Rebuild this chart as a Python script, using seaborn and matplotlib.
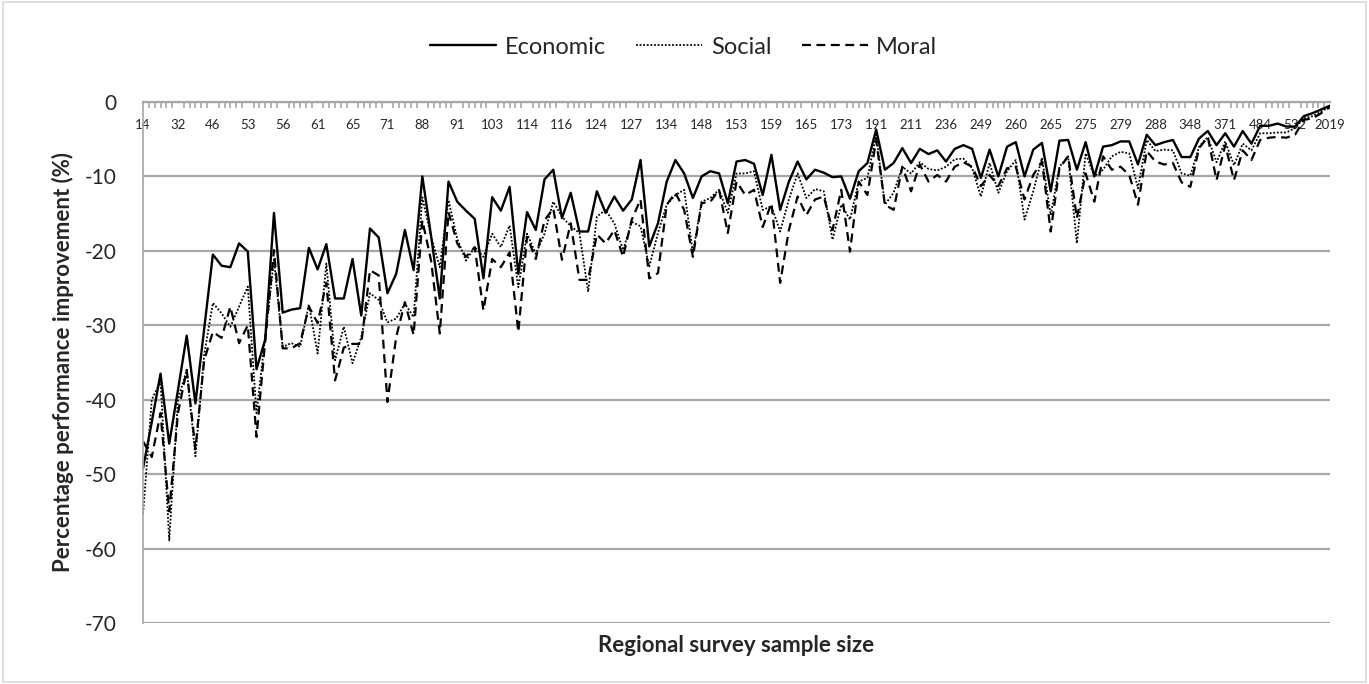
import numpy as np
import pandas as pd
import matplotlib
matplotlib.use("Agg")
import matplotlib.pyplot as plt
import matplotlib.patches as patches
import seaborn as sns

# sample-size labels shown on the axis (every 4th region)
sample_size_labels = ["14", "32", "46", "53", "56", "61", "65", "71", "88", "91", "103", "114",
                      "116", "124", "127", "134", "148", "153", "159", "165", "173", "191", "211",
                      "236", "249", "260", "265", "275", "279", "288", "348", "371", "484", "532", "2019"]
label_step = 4

economic = [-49.2, -43.0, -36.5, -45.9, -38.7, -31.4, -40.5, -30.5, -20.5, -22.0, -22.2, -19.0,
            -20.1, -35.9, -31.9, -14.9, -28.3, -27.9, -27.7, -19.6, -22.5, -19.1, -26.4, -26.4,
            -21.1, -28.7, -17.0, -18.2, -25.7, -23.1, -17.2, -22.6, -10.0, -18.0, -26.4, -10.7,
            -13.4, -14.6, -15.7, -23.7, -12.8, -14.6, -11.4, -23.1, -14.8, -17.2, -10.4, -9.1,
            -15.6, -12.2, -17.4, -17.4, -12.0, -14.9, -12.7, -14.6, -13.1, -7.8, -19.4, -16.3,
            -10.7, -7.8, -9.6, -12.9, -10.0, -9.3, -9.6, -13.6, -8.0, -7.8, -8.3, -12.5,
            -7.1, -14.5, -10.7, -8.0, -10.4, -9.1, -9.5, -10.1, -10.0, -13.0, -9.3, -8.2,
            -3.7, -9.1, -8.2, -6.2, -8.2, -6.3, -7.0, -6.5, -8.0, -6.3, -5.8, -6.3,
            -10.2, -6.4, -10.0, -6.0, -5.4, -10.0, -6.4, -5.5, -12.0, -5.2, -5.1, -9.1,
            -5.4, -10.0, -6.0, -5.8, -5.3, -5.3, -8.4, -4.4, -5.8, -5.4, -5.1, -7.4,
            -7.4, -4.9, -3.9, -5.8, -4.2, -6.0, -3.9, -5.6, -3.2, -3.2, -2.9, -3.3,
            -3.3, -1.9, -1.5, -1.0, -0.5]

social = [-55.3, -40.0, -37.5, -58.9, -40.0, -36.0, -47.6, -34.0, -27.0, -28.4, -30.2, -27.5,
          -24.8, -41.8, -31.5, -21.2, -32.9, -32.4, -32.9, -27.2, -33.8, -21.7, -34.7, -30.2,
          -35.1, -31.6, -25.7, -26.6, -29.6, -29.1, -27.1, -28.9, -12.8, -18.1, -22.2, -13.2,
          -18.4, -21.3, -19.5, -20.8, -17.7, -19.5, -16.6, -24.9, -17.7, -20.4, -17.7, -13.4,
          -15.4, -16.7, -17.6, -25.5, -15.4, -14.5, -16.3, -19.9, -16.1, -16.7, -22.1, -17.6,
          -13.8, -12.5, -11.8, -20.3, -13.4, -12.9, -11.8, -14.9, -9.6, -9.6, -9.3, -14.5,
          -14.0, -17.4, -13.1, -9.6, -12.9, -11.7, -12.0, -18.5, -13.8, -15.8, -10.7, -10.2,
          -4.4, -13.8, -12.2, -8.7, -9.6, -8.1, -9.0, -9.2, -8.7, -7.7, -7.6, -8.9,
          -12.7, -8.2, -12.2, -9.3, -7.8, -15.8, -12.0, -7.5, -15.2, -8.7, -7.3, -19.0,
          -6.9, -10.0, -9.1, -7.3, -6.7, -6.9, -11.6, -5.1, -6.6, -6.4, -6.5, -9.6,
          -9.9, -6.0, -4.7, -8.1, -5.3, -8.5, -5.6, -6.5, -4.2, -4.2, -4.1, -4.1,
          -3.5, -2.2, -1.9, -1.3, -0.6]

moral = [-45.6, -47.7, -41.8, -55.0, -41.8, -36.0, -46.6, -34.7, -30.9, -31.7, -27.5, -32.4,
         -30.0, -45.0, -32.0, -19.9, -33.1, -33.1, -32.4, -27.5, -29.7, -24.3, -37.4, -33.0,
         -32.5, -32.5, -22.6, -23.3, -40.3, -31.6, -26.9, -31.3, -15.9, -21.3, -31.1, -14.8,
         -19.0, -20.8, -19.5, -28.0, -21.1, -22.2, -20.2, -30.9, -18.1, -21.1, -15.9, -14.3,
         -21.2, -16.3, -23.9, -23.9, -17.8, -19.0, -17.2, -20.8, -15.8, -13.1, -23.7, -23.0,
         -13.8, -12.2, -14.5, -20.8, -13.6, -13.4, -11.8, -17.6, -10.7, -12.5, -11.8, -16.8,
         -13.6, -24.3, -17.2, -12.7, -15.2, -13.1, -12.7, -17.2, -11.8, -20.1, -10.7, -12.5,
         -5.1, -13.8, -14.5, -8.7, -12.0, -8.4, -10.7, -9.8, -10.7, -8.7, -8.1, -8.7,
         -11.3, -9.8, -11.3, -8.9, -8.7, -13.1, -9.8, -8.0, -17.4, -8.9, -7.3, -15.6,
         -9.6, -13.4, -7.3, -9.1, -8.7, -9.8, -13.8, -6.6, -8.0, -8.4, -8.2, -10.8,
         -11.4, -6.2, -4.7, -10.5, -5.8, -10.5, -6.5, -7.8, -5.1, -4.8, -4.7, -4.8,
         -4.4, -2.4, -2.2, -1.5, -0.7]

series_names = ["Economic", "Social", "Moral"]

# table long format pour seaborn
pos = np.arange(len(economic))
df = pd.DataFrame({
    "pos": np.tile(pos, 3),
    "value": economic + social + moral,
    "series": np.repeat(series_names, len(pos)),
})

sns.set_style("white")
plt.rcParams["font.family"] = ["Lato", "DejaVu Sans"]
plt.rcParams["axes.unicode_minus"] = False

fig = plt.figure(figsize=(13.69, 6.84), dpi=100)
ax = fig.add_axes([0.1045, 0.0892, 0.9715 - 0.1045, 0.8509 - 0.0892])

styles = {"Economic": ("-", 1.7), "Social": ((0, (1, 1)), 1.3), "Moral": ((0, (4, 2.5)), 1.6)}
for name in series_names:
    ls, lw = styles[name]
    sub = df[df["series"] == name]
    sns.lineplot(data=sub, x="pos", y="value", ax=ax, color="black", linewidth=lw,
                 label=name, linestyle=ls)

ax.set_xlim(0, len(pos) - 1)
ax.set_ylim(-70, 0)

# grille horizontale
ax.set_yticks(np.arange(-70, 1, 10))
ax.yaxis.grid(True, color="#A6A6A6", linewidth=1.6)
ax.set_axisbelow(True)
ax.tick_params(axis="y", length=0, labelsize=15, pad=19)

# axe des x en haut (valeur 0), libellés sous la ligne
ax.set_xticks(np.arange(0, len(pos), label_step))
ax.set_xticklabels(sample_size_labels)
ax.xaxis.set_minor_locator(matplotlib.ticker.MultipleLocator((len(pos) - 1) / 204))
ax.tick_params(axis="x", which="both", top=True, bottom=False, labeltop=True, labelbottom=False,
               direction="in", color="#A6A6A6", width=1.2)
ax.tick_params(axis="x", which="major", length=0, labelsize=9.5, pad=-21)
ax.tick_params(axis="x", which="minor", length=4)

for side in ["right", "bottom"]:
    ax.spines[side].set_visible(False)
ax.spines["top"].set_color("#A6A6A6")
ax.spines["top"].set_linewidth(1.6)
ax.spines["left"].set_color("#A6A6A6")
ax.spines["left"].set_linewidth(1.2)

ax.set_xlabel("Regional survey sample size", fontsize=16, fontweight="bold", labelpad=9)
ax.set_ylabel("Percentage performance improvement (%)", fontsize=16, fontweight="bold", labelpad=8)

leg = ax.legend(loc="center", bbox_to_anchor=(0.4995, 0.931), bbox_transform=fig.transFigure,
                ncol=3, frameon=False, fontsize=17, handlelength=2.8, columnspacing=1.3,
                handletextpad=0.35)

# bordure du graphique
fig.patches.append(patches.Rectangle((0.002, 0.003), 0.996, 0.994, transform=fig.transFigure,
                                     fill=False, edgecolor="#D9D9D9", linewidth=1.2))

fig.savefig("out.png", dpi=100)
